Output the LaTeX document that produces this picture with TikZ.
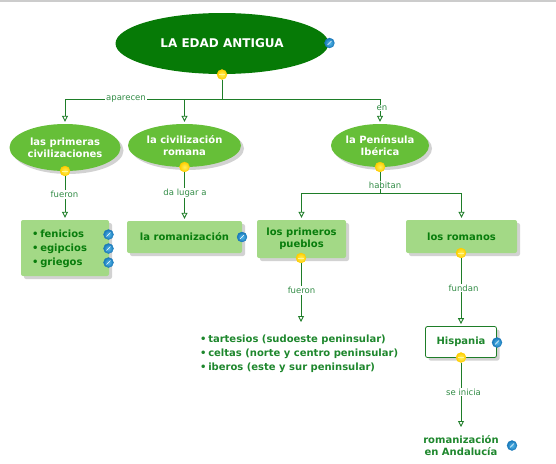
\documentclass[tikz,border=0pt]{standalone}
\usepackage{fontspec}
\setmainfont{DejaVu Sans}
\usepackage{tikz}
\usetikzlibrary{arrows.meta,calc,positioning,shapes.geometric,shadows}
\definecolor{RootGreen}{RGB}{6,122,6}
\definecolor{OvalGreen}{RGB}{102,191,56}
\definecolor{BoxGreen}{RGB}{163,217,134}
\definecolor{LineGreen}{RGB}{30,125,40}
\definecolor{TextGreen}{RGB}{8,125,12}
\definecolor{ListGreen}{RGB}{30,135,45}
\definecolor{LabelGreen}{RGB}{50,140,70}
\definecolor{BallBlue}{RGB}{24,120,185}
\definecolor{BallBlueSoft}{RGB}{85,185,235}
\definecolor{BallYellow}{RGB}{255,205,0}
\definecolor{BallYellowSoft}{RGB}{255,240,90}
\tikzset{
  softshadow/.style={drop shadow={shadow xshift=3pt,shadow yshift=-3pt,fill=black!35,opacity=.5}},
  oval/.style={ellipse,fill=OvalGreen,inner sep=0pt,text=white,align=center,softshadow,
    font=\fontsize{10}{12}\selectfont\bfseries},
  greenbox/.style={rectangle,rounded corners=2pt,fill=BoxGreen,inner sep=0pt,text=TextGreen,align=center,softshadow,
    font=\fontsize{10}{12}\selectfont\bfseries},
  listtext/.style={inner sep=0pt,align=left,anchor=west,
    font=\fontsize{10}{14}\selectfont\bfseries},
  yball/.style={circle,minimum size=10pt,inner sep=0pt,inner color=BallYellowSoft,outer color=BallYellow,draw=BallYellow,line width=.3pt},
  yballminus/.style={yball,path picture={\draw[BallYellowSoft!60!white,line width=.9pt]
    ([xshift=2pt]path picture bounding box.west)--([xshift=-2pt]path picture bounding box.east);}},
  bball/.style={circle,minimum size=10pt,inner sep=0pt,inner color=BallBlueSoft,outer color=BallBlue,draw=BallBlue,line width=.3pt,
    path picture={\draw[white,line width=.6pt]
    ([shift={(-2pt,-2pt)}]path picture bounding box.center)--([shift={(2pt,2pt)}]path picture bounding box.center);}},
  linktext/.style={fill=white,inner sep=1pt,text=LabelGreen,font=\fontsize{8.5}{10}\selectfont},
  link/.style={LineGreen,line width=.9pt},
  linkarrow/.style={link,-{Triangle[open,length=6pt,width=6pt]},shorten >=2pt},
}
\begin{document}
\begin{tikzpicture}[x=1pt,y=-1pt]
\useasboundingbox (0,0) rectangle (556,463);
\fill[black!20] (0,0) rectangle (556,2);
% conceptos
\node[ellipse,fill=RootGreen,minimum width=213pt,minimum height=61pt,inner sep=0pt,text=white,
  font=\fontsize{12}{14}\selectfont\bfseries] (edad) at (222,43.5) {LA EDAD ANTIGUA};
\node[oval,minimum width=111pt,minimum height=47pt] (primeras) at (65,147.5) {las primeras\\civilizaciones};
\node[oval,minimum width=113pt,minimum height=43pt] (civil) at (184.5,145.5) {la civilización\\romana};
\node[oval,minimum width=98pt,minimum height=43pt] (iberica) at (380,145.5) {la Península\\Ibérica};
\node[greenbox,minimum width=88pt,minimum height=56pt] (fenicios) at (65,248) {};
\node[greenbox,minimum width=115pt,minimum height=32pt] (roma) at (184.5,237) {la romanización};
\node[greenbox,minimum width=89pt,minimum height=38pt] (pueblos) at (301.5,239) {los primeros\\pueblos};
\node[greenbox,minimum width=111pt,minimum height=33pt] (romanos) at (461.5,236.5) {los romanos};
\node[rectangle,rounded corners=2pt,draw=LineGreen,line width=.8pt,fill=white,minimum width=71pt,minimum height=31pt,
  inner sep=0pt,text=ListGreen,softshadow,font=\fontsize{10}{12}\selectfont\bfseries] (hispania) at (461,342) {Hispania};
\node[listtext,text=TextGreen] (listfen) at (32,249) {•\,fenicios\\•\,egipcios\\•\,griegos};
\node[listtext,text=ListGreen] (listpue) at (200,353.5) {•\,tartesios (sudoeste peninsular)\\•\,celtas (norte y centro peninsular)\\•\,iberos (este y sur peninsular)};
\node[inner sep=0pt,align=center,text=ListGreen,font=\fontsize{10}{12}\selectfont\bfseries] (andalucia) at (461,446) {romanización\\en Andalucía};
% bolas
\node[yballminus] (yedad) at (222,74.5) {};
\node[yballminus] (yprimeras) at (65,171) {};
\node[yball] (ycivil) at (184.5,167) {};
\node[yball] (yiberica) at (380,167) {};
\node[yballminus] (ypueblos) at (301,258) {};
\node[yballminus] (yromanos) at (461,253) {};
\node[yballminus] (yhispania) at (461,357.5) {};
\node[bball] (bedad) at (329.5,43) {};
\node[bball] (bfen) at (108.5,234.5) {};
\node[bball] (begi) at (108.5,248.5) {};
\node[bball] (bgri) at (108.5,262.5) {};
\node[bball] (broma) at (242,237) {};
\node[bball] (bhis) at (497,342.5) {};
\node[bball] (bandal) at (512,445.5) {};
% uniones
\coordinate (jedad) at (yedad |- 0,99);
\coordinate (jiberica) at (yiberica |- 0,193);
\coordinate (tippue) at (ypueblos |- 0,324);
\coordinate (tipand) at (yhispania |- 0,429);
\draw[link] (yedad.south)--(jedad);
\draw[linkarrow] (jedad)-|(primeras.north);
\draw[linkarrow] (jedad)-|(civil.north);
\draw[linkarrow] (jedad)-|(iberica.north);
\draw[linkarrow] (yprimeras.south)--(fenicios.north);
\draw[linkarrow] (ycivil.south)--(roma.north);
\draw[link] (yiberica.south)--(jiberica);
\draw[linkarrow] (jiberica)-|(pueblos.north);
\draw[linkarrow] (jiberica)-|(romanos.north);
\draw[linkarrow] (ypueblos.south)--(tippue);
\draw[linkarrow] (yromanos.south)--(hispania.north);
\draw[linkarrow] (yhispania.south)--(tipand);
% etiquetas
\node[linktext] (lapar) at (126,99) {aparecen};
\node[linktext,inner sep=.5pt] (len) at (382,108) {en};
\node[linktext] (lfue) at (64.5,194.5) {fueron};
\node[linktext] (llug) at (185,193) {da lugar a};
\node[linktext] (lhab) at (385,185) {habitan};
\node[linktext] (lfuedos) at (301.5,290.5) {fueron};
\node[linktext] (lfun) at (463.5,288) {fundan};
\node[linktext] (lini) at (463.5,392) {se inicia};
\end{tikzpicture}
\end{document}
